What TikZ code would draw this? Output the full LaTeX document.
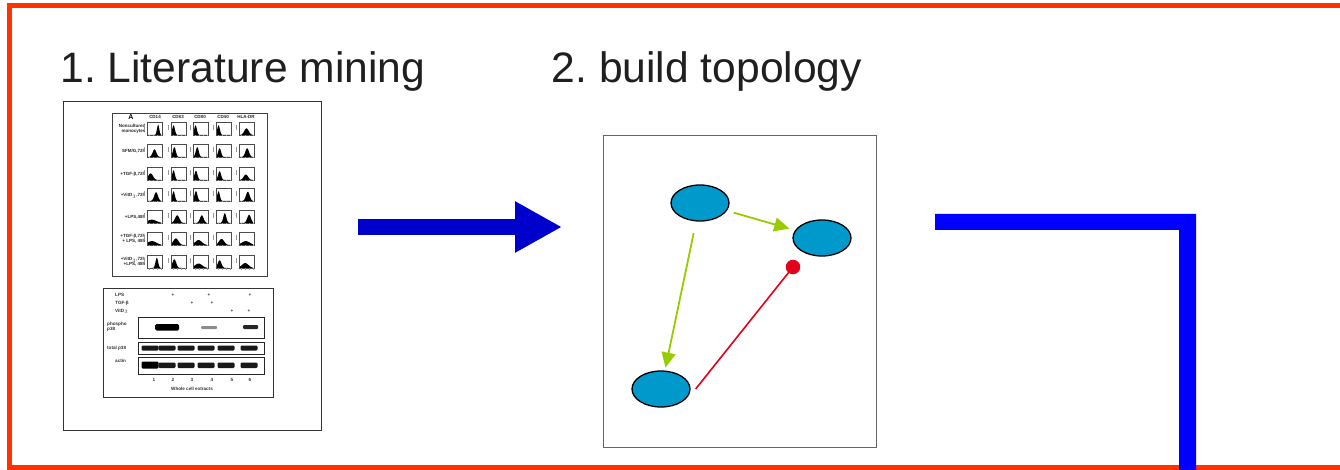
\documentclass[tikz,border=0pt]{standalone}
\usepackage{fontspec}
\setmainfont{Liberation Sans}
\usetikzlibrary{arrows.meta,shapes.geometric}
\definecolor{frameorange}{HTML}{FF3300}
\definecolor{arrowblue}{HTML}{0000CC}
\definecolor{lblue}{HTML}{0000FF}
\definecolor{nodeblue}{HTML}{0099CC}
\definecolor{actgreen}{HTML}{99CC00}
\definecolor{inhred}{HTML}{E2001A}
\frenchspacing
\newcommand\histo[5]{%
  \fill[black] (#1+1,#2+13) -- plot[domain=0:1,samples=20,smooth]
    ({#1+1+13*\x},{#2+13-#5*11*exp(-((\x-#3)*(\x-#3))/(2*1.96*#4*#4))}) -- (#1+14,#2+13) -- cycle;
  \draw[black!70,line width=0.7] (#1,#2) rectangle (#1+15,#2+13);
  \draw[black!40,line width=0.5] (#1-3,#2+3) -- (#1-3,#2+8);
  \foreach \tk in {2,6,10,14} \draw[black!40,line width=0.3] (#1+\tk,#2+13) -- (#1+\tk,#2+14.5);
}
\begin{document}
\begin{tikzpicture}[x=1pt,y=-1pt,
  title/.style={font=\fontsize{42.6}{50}\selectfont, inner sep=0, text=black!88},
  panel/.style={draw, inner sep=0, anchor=north west},
  ell/.style={ellipse, draw=black, line width=1.3, fill=nodeblue, minimum width=58, minimum height=36, inner sep=0},
  act/.style={actgreen, line width=1.8, -{Triangle[length=15pt,width=14pt]}},
  inh/.style={inhred, line width=1.6},
  tinyb/.style={font=\fontsize{4.5}{5}\selectfont\bfseries, inner sep=0, text=black!85},
  blotlab/.style={font=\fontsize{4.6}{5}\selectfont\bfseries, inner sep=0, text=black!80},
  boxline/.style={draw=black!85, line width=0.9}
]
\useasboundingbox (0,0) rectangle (1340,470);
\fill[white] (0,0) rectangle (1340,470);
% frame
\draw[frameorange, line width=5.5] (1345,5.5) -- (9.5,5.5) -- (9.5,467.5) -- (1345,467.5);

% titles
\node[title, anchor=base west] (t1) at (60.3,83) {1. Literature mining};
\node[title, anchor=base west] (t2) at (551.6,83) {2. build topology};

% panels
\node[panel, draw=black!80, line width=0.8, minimum width=258, minimum height=329] (p1) at (63,101) {};
\node[panel, draw=black!60, line width=1.2, minimum width=273, minimum height=312] (p2) at (603,135) {};

% big arrow
\coordinate (a1) at (358,227);
\coordinate (a2) at (562,227);
\draw[arrowblue, line width=16, -{Triangle[length=47pt,width=48pt]}] (a1) -- (a2);

% L shaped bar
\fill[lblue] (935,214) -- (1196,214) -- (1196,470) -- (1179,470) -- (1179,230) -- (935,230) -- cycle;

% network
\node[ell] (n1) at (700,203) {};
\node[ell] (n2) at (822,238) {};
\node[ell] (n3) at (661,389) {};
\node[circle, fill=inhred, minimum size=14.5, inner sep=0] (dot) at (793,267) {};
\draw[act, shorten <=7pt, shorten >=6pt] (n1) -- (n2);
\draw[act, shorten <=12pt, shorten >=3pt] (n1) -- (n3);
\draw[inh] ([xshift=5pt]n3.east) -- (dot.center);

% ---- flow cytometry figure ----
\draw[black!75, line width=0.8] (112,113) rectangle (267,276);
\node[font=\fontsize{7}{7}\selectfont\bfseries, inner sep=0] (hA) at (131,117.5) {A};
\foreach \hx/\htxt [count=\i] in {155/CD14,178/CD83,200/CD80,223/CD40,246/HLA-DR}
  \node[tinyb] (hd\i) at (\hx,116.5) {\htxt};
\foreach \ly/\ltxt [count=\i] in {129/{Noncultured\\monocytes},151/{SFM/G,72h},174/{+TGF-β,72h},196/{+VitD$_3$,72h},217/{+LPS,48h},239/{+TGF-β,72h\\+ LPS, 48h},262/{+VitD$_3$,72h\\+LPS, 48h}}
  \node[tinyb, anchor=east, align=right] (rl\i) at (145.5,\ly) {\ltxt};
\foreach \ry/\rdata in {
  122/{.78/.06/.95,.12/.07/.9,.12/.07/.9,.12/.07/.9,.5/.12/.6},
  144/{.5/.1/.7,.18/.08/.9,.25/.08/.9,.2/.08/.8,.55/.1/.8},
  167/{.2/.13/.6,.12/.07/.9,.15/.08/.85,.2/.08/.8,.45/.12/.5},
  188/{.62/.1/.8,.12/.07/.9,.15/.08/.9,.12/.07/.9,.6/.1/.85},
  210/{.3/.25/.3,.4/.12/.7,.6/.1/.7,.6/.08/.9,.7/.1/.75},
  232/{.3/.25/.35,.3/.14/.6,.35/.18/.45,.35/.14/.55,.45/.22/.35},
  255/{.68/.07/.95,.18/.1/.8,.35/.2/.4,.2/.1/.7,.4/.18/.45}} {
  \foreach \pk/\sg/\hh [count=\i from 0] in \rdata {
    \pgfmathsetmacro\cx{{147,171,193,216,239}[\i]}
    \histo{\cx}{\ry}{\pk}{\sg}{\hh}
  }
}

% ---- western blot ----
\draw[black!80, line width=0.8] (103,288) rectangle (273,397);
\node[blotlab, anchor=west] (lps) at (115,295) {LPS};
\node[blotlab, anchor=west] (tgf) at (115,303) {TGF-β};
\node[blotlab, anchor=west] (vit) at (115,311.5) {VitD$_3$};
\foreach \px [count=\i] in {173,209,250} \node[blotlab] (pl\i) at (\px,295) {+};
\foreach \px [count=\i] in {192,212} \node[blotlab] (pt\i) at (\px,303) {+};
\foreach \px [count=\i] in {232,249} \node[blotlab] (pv\i) at (\px,311.5) {+};
\draw[boxline] (138,317) rectangle (264,338);
\draw[boxline] (138,342) rectangle (264,354);
\draw[boxline] (138,357) rectangle (264,374);
\node[blotlab, anchor=west, align=left] (php) at (107,327) {phospho\\p38};
\node[blotlab, anchor=west] (tot) at (107,348) {total p38};
\node[blotlab, anchor=west] (actn) at (115,361) {actin};
% bands
\fill[black, rounded corners=1.5] (155,324) rectangle (179,330.5);
\fill[black!45, rounded corners=1] (201,326) rectangle (217,329);
\fill[black!85, rounded corners=1] (243,325) rectangle (258,329);
\foreach \bx in {150,167,186,206,226,249}
  \fill[black!90, rounded corners=1.2] (\bx-8.5,345.5) rectangle (\bx+8.5,350.5);
\fill[black, rounded corners=1.2] (141.5,361.5) rectangle (158.5,368.5);
\foreach \bx in {167,186,206,226,249}
  \fill[black!90, rounded corners=1.2] (\bx-8.5,362.5) rectangle (\bx+8.5,368);
\foreach \lx [count=\i] in {154,173,192,212,232,250} \node[blotlab] (ln\i) at (\lx,380) {\i};
\node[blotlab] (wce) at (192,389) {Whole cell extracts};
\end{tikzpicture}
\end{document}
